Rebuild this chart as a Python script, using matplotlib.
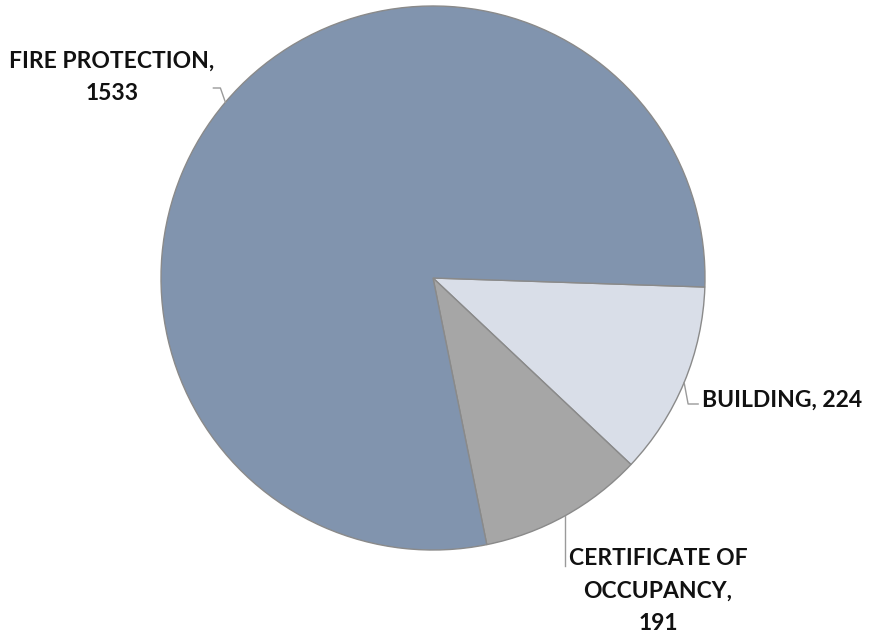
import numpy as np
import matplotlib.pyplot as plt

categories = ["BUILDING", "CERTIFICATE OF\nOCCUPANCY,\n", "FIRE PROTECTION,\n"]
values = [224, 191, 1533]
colors = ["#D9DEE8", "#A6A6A6", "#8194AE"]

W, H = 871, 637
fig = plt.figure(figsize=(W / 100, H / 100), dpi=100)
ax = fig.add_axes([0, 0, 1, 1])

# pixel-style coordinates, y measured from the top
cx, cy, r = 433, 278, 272
start = -1.9

wedges, _ = ax.pie(
    values,
    colors=colors,
    startangle=start,
    counterclock=False,
    center=(cx, H - cy),
    radius=r,
    wedgeprops=dict(edgecolor="#8a8a8a", linewidth=1.0),
    frame=True,
)
ax.set_xlim(0, W)
ax.set_ylim(0, H)
ax.set_aspect("equal")
ax.axis("off")


def edge_point(w):
    ang = np.deg2rad((w.theta1 + w.theta2) / 2)
    return cx + r * np.cos(ang), cy - r * np.sin(ang)


def line(xs, ys):
    ax.plot(xs, [H - y for y in ys], color="#9a9a9a", lw=1)


def label(x, y, s, **kw):
    ax.text(x, H - y, s, family=["Lato", "DejaVu Sans"], fontweight="bold",
            fontsize=16.5, color="#111111", **kw)


# Building
bx, by = edge_point(wedges[0])
line([bx, bx + 4, bx + 14], [by, 404, 404])
label(702, 400, f"{categories[0]}, {values[0]}", ha="left", va="center")

# Certificate of occupancy
ox, oy = edge_point(wedges[1])
line([ox, ox], [oy, 566])
label(658, 591, f"{categories[1]}{values[1]}", ha="center", va="center", linespacing=1.65)

# Fire protection
fx, fy = edge_point(wedges[2])
line([fx, fx - 5, fx - 12], [fy, 88, 88])
label(112, 77, f"{categories[2]}{values[2]}", ha="center", va="center", linespacing=1.65)

fig.savefig("out.png", dpi=100)
